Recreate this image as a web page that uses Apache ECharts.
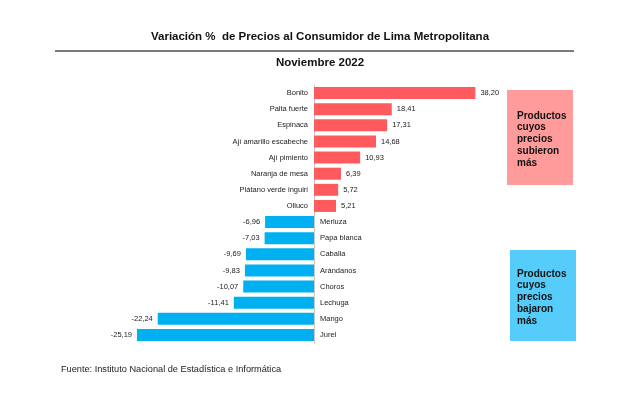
<!DOCTYPE html>
<html><head><meta charset="utf-8">
<script src="https://cdn.jsdelivr.net/npm/echarts@6/dist/echarts.min.js"></script>
<style>html,body{margin:0;padding:0;background:#fff}#c{width:640px;height:404px}</style>
</head><body><div id="c"></div>
<script>
var upCategories = ["Bonito","Palta fuerte","Espinaca","Ají amarillo escabeche","Ají pimiento","Naranja de mesa","Plátano verde inguiri","Olluco"];
var upValues = [38.20,18.41,17.31,14.68,10.93,6.39,5.72,5.21];
var downCategories = ["Merluza","Papa blanca","Caballa","Arándanos","Choros","Lechuga","Mango","Jurel"];
var downValues = [-6.96,-7.03,-9.69,-9.83,-10.07,-11.41,-22.24,-25.19];
var titleText = "Variación %  de Precios al Consumidor de Lima Metropolitana";
var subtitleText = "Noviembre 2022";
var sourceText = "Fuente: Instituto Nacional de Estadística e Informática";
var upNote = "Productos\ncuyos\nprecios\nsubieron\nmás";
var downNote = "Productos\ncuyos\nprecios\nbajaron\nmás";

var FONT = "'Liberation Sans', Arial, sans-serif";
var NARROW = "'Liberation Sans Narrow', 'Arial Narrow', 'Liberation Sans', sans-serif";
function fmt(p){ return p.value.toFixed(2).replace('.', ','); }

var chart = echarts.init(document.getElementById('c'), null, {renderer:'canvas'});
chart.setOption({
  animation:false,
  backgroundColor:'#fff',
  title:[
    {text:titleText, left:315, top:26, textAlign:'center',
     textStyle:{fontFamily:NARROW, fontSize:11.5, fontWeight:'bold', color:'#111'}},
    {text:subtitleText, left:315, top:52, textAlign:'center',
     textStyle:{fontFamily:NARROW, fontSize:11.5, fontWeight:'bold', color:'#111'}}
  ],
  grid:[
    {left:314, top:85, width:169, height:129},
    {left:103.2, top:214, width:210.8, height:129}
  ],
  xAxis:[
    {gridIndex:0, type:'value', min:0, max:40, show:false},
    {gridIndex:1, type:'value', min:-30, max:0, show:false}
  ],
  yAxis:[
    {gridIndex:0, type:'category', data:upCategories, inverse:true, position:'left',
     axisLine:{show:true, lineStyle:{color:'#c8c8c8', width:1}}, axisTick:{show:false},
     axisLabel:{fontFamily:FONT, fontSize:7.5, color:'#222', margin:6}},
    {gridIndex:1, type:'category', data:downCategories, inverse:true, position:'right',
     axisLine:{show:true, lineStyle:{color:'#c8c8c8', width:1}}, axisTick:{show:false},
     axisLabel:{fontFamily:FONT, fontSize:7.5, color:'#222', margin:6}}
  ],
  series:[
    {type:'bar', xAxisIndex:0, yAxisIndex:0, data:upValues, barWidth:12,
     itemStyle:{color:'#FF5B5F'},
     label:{show:true, position:'right', distance:5, formatter:fmt, fontFamily:FONT, fontSize:7.5, color:'#222'}},
    {type:'bar', xAxisIndex:1, yAxisIndex:1, data:downValues, barWidth:12,
     itemStyle:{color:'#00B0F0'},
     label:{show:true, position:'left', distance:5, formatter:fmt, fontFamily:FONT, fontSize:7.5, color:'#222'}}
  ],
  graphic:[
    {type:'line', shape:{x1:55, y1:51, x2:574, y2:51}, style:{stroke:'#7a7a7a', lineWidth:2}},
    {type:'rect', shape:{x:507, y:90, width:66, height:95}, style:{fill:'#FF9B9B'}},
    {type:'text', left:517, top:110, style:{text:upNote, fontFamily:FONT, fontSize:10, fontWeight:'bold', fill:'#111', lineHeight:11.8}},
    {type:'rect', shape:{x:510, y:250, width:66, height:91}, style:{fill:'#55CCFA'}},
    {type:'text', left:517, top:268, style:{text:downNote, fontFamily:FONT, fontSize:10, fontWeight:'bold', fill:'#111', lineHeight:11.8}},
    {type:'text', left:61, top:365, style:{text:sourceText, fontFamily:FONT, fontSize:9.2, fill:'#222'}}
  ]
});
</script></body></html>
